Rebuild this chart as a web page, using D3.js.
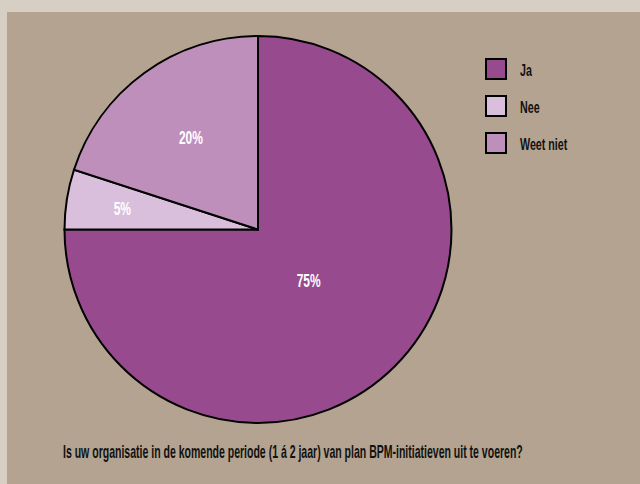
<!DOCTYPE html>
<html>
<head>
<meta charset="utf-8">
<script src="https://cdn.jsdelivr.net/npm/d3@7"></script>
<style>
  body { margin: 0; background: #d8cfc4; }
  svg { display: block; }
  text { font-family: "Liberation Sans", Arial, sans-serif; font-weight: bold; }
</style>
</head>
<body>
<script>
var categories = ["Ja", "Nee", "Weet niet"];
var values = [75, 5, 20];
var labels = ["75%", "5%", "20%"];
var colors = ["#974a8e", "#d9bfdc", "#bf8fbc"];
var question = "Is uw organisatie in de komende periode (1 á 2 jaar) van plan BPM-initiatieven uit te voeren?";

var width = 640,
    height = 484,
    cx = 258,
    cy = 229.5,
    radius = 193.5,
    squeeze = 0.63; // the original uses a very narrow typeface

// labels sit at different depths inside each slice
var labelDepth = [0.37, 0.71, 0.59];

var svg = d3.select("body").append("svg")
    .attr("width", width)
    .attr("height", height);

svg.append("rect")
    .attr("x", 7).attr("y", 12)
    .attr("width", width - 7).attr("height", height - 12)
    .attr("fill", "#b3a390");

var data = categories.map(function(c, i) {
  return { name: c, value: values[i], label: labels[i], i: i };
});

var pie = d3.pie()
    .sort(null)
    .value(function(d) { return d.value; });

var arc = d3.arc()
    .innerRadius(0)
    .outerRadius(radius);

var g = svg.append("g")
    .attr("transform", "translate(" + cx + "," + cy + ")");

g.selectAll(".slice")
    .data(pie(data))
  .enter().append("path")
    .attr("class", "slice")
    .attr("fill", function(d) { return colors[d.data.i]; })
    .attr("stroke", "#000")
    .attr("stroke-width", 2)
    .attr("d", arc);

g.selectAll(".pct")
    .data(pie(data))
  .enter().append("text")
    .attr("class", "pct")
    .attr("transform", function(d) {
      var r = radius * labelDepth[d.data.i];
      var a = (d.startAngle + d.endAngle) / 2;
      return "translate(" + (Math.sin(a) * r) + "," + (-Math.cos(a) * r) + ") scale(" + squeeze + ",1)";
    })
    .attr("dy", "0.36em")
    .attr("text-anchor", "middle")
    .attr("fill", "#fff")
    .attr("font-size", 19)
    .text(function(d) { return d.data.label; });

// legend
var legend = svg.append("g")
    .attr("transform", "translate(486,59)");

var item = legend.selectAll(".item")
    .data(data)
  .enter().append("g")
    .attr("class", "item")
    .attr("transform", function(d, i) { return "translate(0," + (i * 37) + ")"; });

item.append("rect")
    .attr("width", 20).attr("height", 20)
    .attr("fill", function(d) { return colors[d.i]; })
    .attr("stroke", "#000")
    .attr("stroke-width", 2);

item.append("text")
    .attr("transform", "translate(34,17) scale(" + squeeze + ",1)")
    .attr("font-size", 17)
    .attr("fill", "#111")
    .text(function(d) { return d.name; });

// question under the pie, squeezed to the width it has in the original
var q = svg.append("text")
    .attr("font-size", 18)
    .attr("fill", "#111")
    .text(question);
var qw = q.node().getComputedTextLength();
q.attr("transform", "translate(63,458) scale(" + (460 / qw) + ",1)");
</script>
</body>
</html>
